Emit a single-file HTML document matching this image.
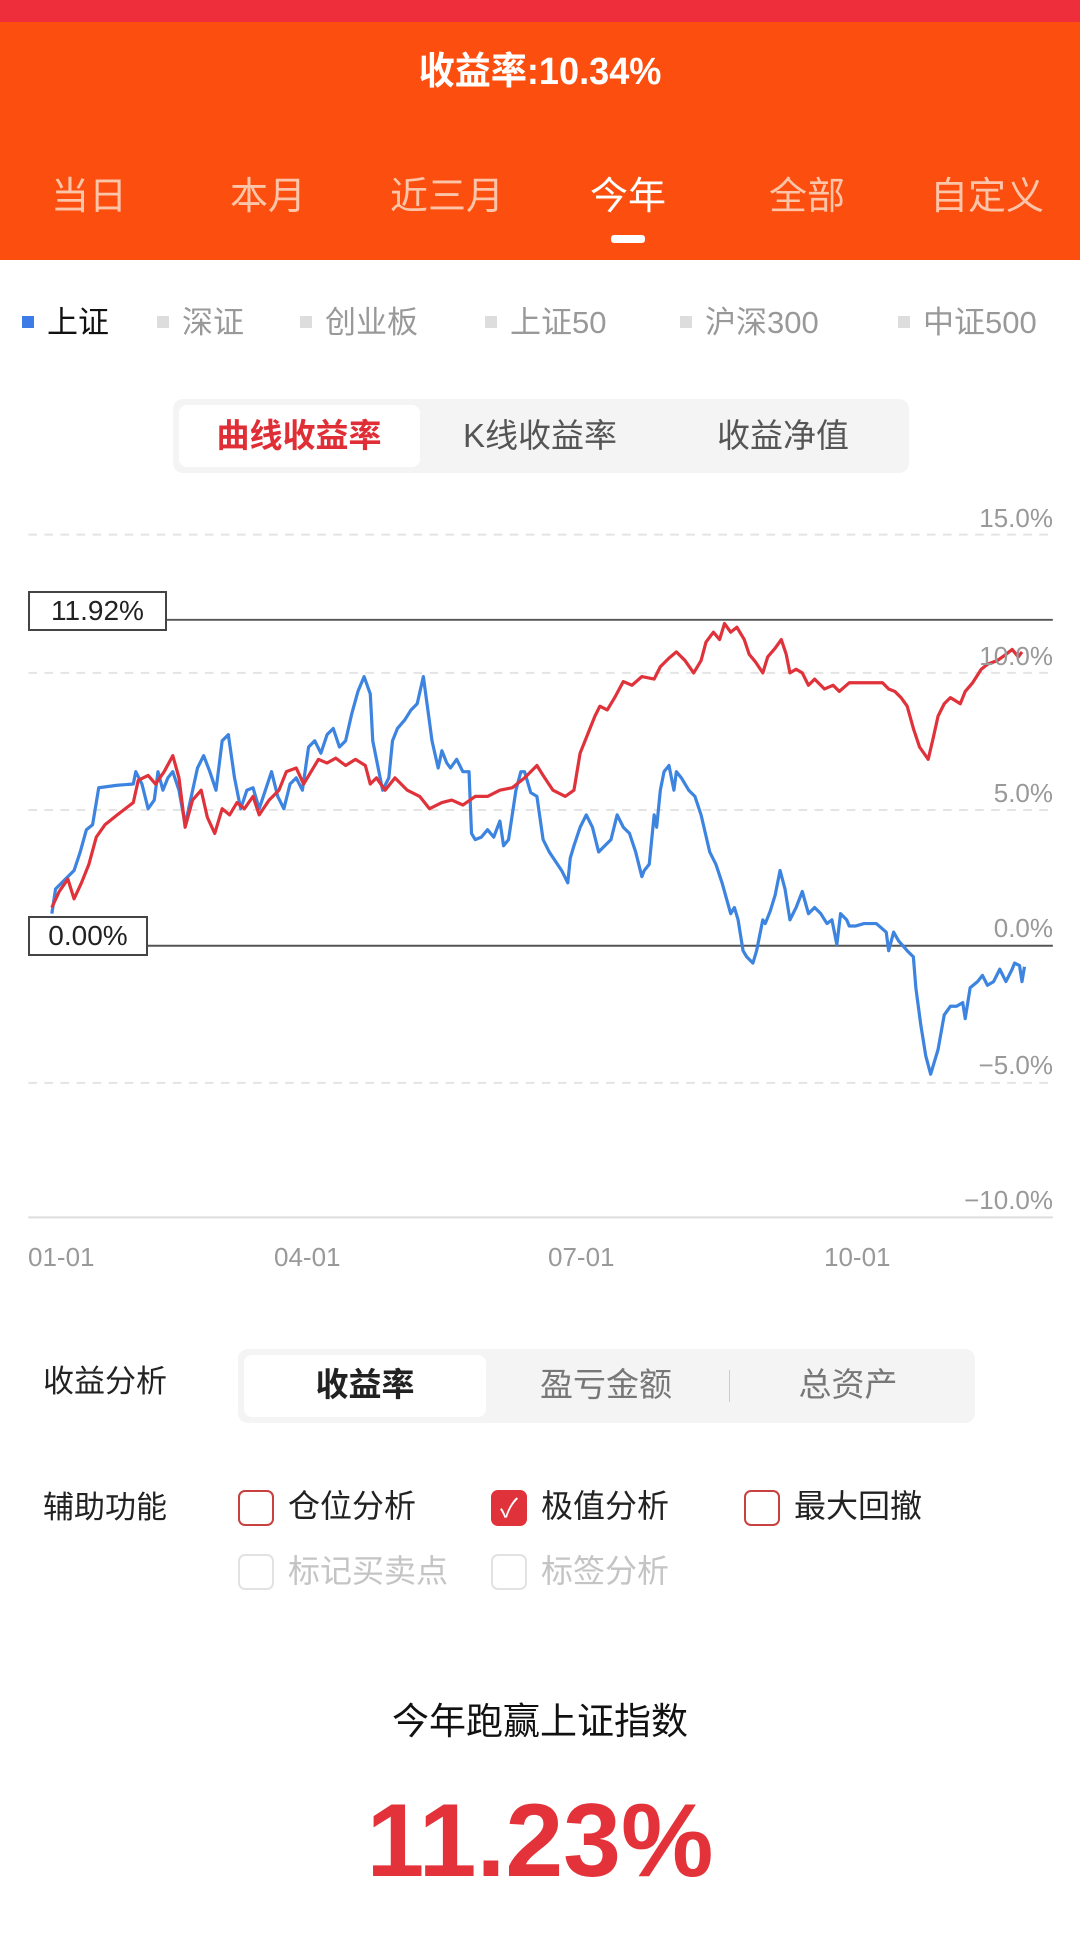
<!DOCTYPE html>
<html><head><meta charset="utf-8"><style>
*{margin:0;padding:0;box-sizing:border-box}
body{width:1080px;height:1936px;background:#fff;position:relative;overflow:hidden;font-family:"Liberation Sans","Noto Sans CJK SC",sans-serif}
.a{position:absolute;white-space:nowrap}
.c{transform:translateX(-50%)}
</style></head><body>
<div class="a" style="left:0;top:0;width:1080px;height:22px;background:#ee2e3a"></div>
<div class="a" style="left:0;top:22px;width:1080px;height:238px;background:#fc4e0e"></div>
<div class="a" style="left:540px;top:40px;font-size:38px;color:#fff;font-weight:bold;transform:translateX(-50%) scaleX(0.95)">收益率:10.34%</div>
<div class="a c" style="left:89px;top:165px;font-size:38px;color:#fcc4a8">当日</div>
<div class="a c" style="left:268px;top:165px;font-size:38px;color:#fcc4a8">本月</div>
<div class="a c" style="left:447px;top:165px;font-size:38px;color:#fcc4a8">近三月</div>
<div class="a c" style="left:628px;top:165px;font-size:38px;color:#fff">今年</div>
<div class="a c" style="left:807px;top:165px;font-size:38px;color:#fcc4a8">全部</div>
<div class="a c" style="left:987px;top:165px;font-size:38px;color:#fcc4a8">自定义</div>
<div class="a" style="left:611px;top:235px;width:34px;height:8px;border-radius:3px;background:#fff"></div>

<div class="a" style="left:22px;top:316px;width:12px;height:12px;background:#3d7be6"></div>
<div class="a" style="left:47px;top:297px;font-size:31px;color:#111">上证</div>
<div class="a" style="left:157px;top:316px;width:12px;height:12px;background:#ddd"></div>
<div class="a" style="left:182px;top:297px;font-size:31px;color:#999">深证</div>
<div class="a" style="left:300px;top:316px;width:12px;height:12px;background:#ddd"></div>
<div class="a" style="left:325px;top:297px;font-size:31px;color:#999">创业板</div>
<div class="a" style="left:485px;top:316px;width:12px;height:12px;background:#ddd"></div>
<div class="a" style="left:510px;top:297px;font-size:31px;color:#999">上证50</div>
<div class="a" style="left:680px;top:316px;width:12px;height:12px;background:#ddd"></div>
<div class="a" style="left:705px;top:297px;font-size:31px;color:#999">沪深300</div>
<div class="a" style="left:898px;top:316px;width:12px;height:12px;background:#ddd"></div>
<div class="a" style="left:923px;top:297px;font-size:31px;color:#999">中证500</div>

<div class="a" style="left:173px;top:399px;width:736px;height:74px;background:#f4f4f4;border-radius:10px"></div>
<div class="a" style="left:179px;top:405px;width:241px;height:62px;background:#fff;border-radius:8px"></div>
<div class="a c" style="left:299px;top:409px;font-size:33px;color:#e02e36;font-weight:bold">曲线收益率</div>
<div class="a c" style="left:540px;top:409px;font-size:33px;color:#555">K线收益率</div>
<div class="a c" style="left:783px;top:409px;font-size:33px;color:#555">收益净值</div>

<svg class="a" style="left:0;top:0" width="1080" height="1936" viewBox="0 0 875 1568" preserveAspectRatio="none">
<g stroke="#e4e4e4" stroke-width="1.6" stroke-dasharray="7,6">
<line x1="23" y1="433" x2="853" y2="433"/><line x1="23" y1="545" x2="853" y2="545"/>
<line x1="23" y1="656" x2="853" y2="656"/><line x1="23" y1="877" x2="853" y2="877"/></g>
<line x1="23" y1="986" x2="853" y2="986" stroke="#ddd" stroke-width="1.6"/>
<line x1="23" y1="766" x2="853" y2="766" stroke="#555" stroke-width="1.6"/>
<line x1="23" y1="502" x2="853" y2="502" stroke="#555" stroke-width="1.6"/>
<polyline fill="none" stroke="#3d84e0" stroke-width="2.6" stroke-linejoin="round" points="42,740 45,720 50,715 55,710 60,705 65,690 70,672 75,668 78,650 80,638 95,636 108,635 110,625 115,635 120,655 125,648 128,625 132,640 136,630 140,625 145,640 150,668 155,645 160,622 165,612 170,625 175,640 180,600 185,595 190,630 195,655 200,640 205,638 210,655 215,640 220,625 225,645 230,655 235,635 240,630 245,640 250,605 255,600 260,610 265,595 270,590 275,605 280,600 285,578 290,560 295,548 300,562 302,600 306,620 310,640 315,630 318,600 322,590 328,583 333,575 338,570 343,548 348,585 350,600 355,622 358,608 362,618 365,622 370,615 375,625 380,625 382,675 385,680 390,678 395,672 400,678 405,665 408,685 412,680 418,640 422,625 425,625 430,642 435,645 440,680 445,690 455,705 460,715 462,695 465,685 470,670 475,660 480,670 485,690 490,685 495,680 500,660 505,670 510,675 515,690 520,710 522,705 526,700 530,660 532,670 535,640 538,625 542,620 546,640 548,625 552,630 558,640 563,645 568,660 575,690 580,700 585,715 592,740 595,735 598,745 602,770 605,775 610,780 613,770 618,745 620,748 624,738 628,725 632,705 636,720 640,745 645,735 650,722 655,740 660,735 665,740 670,748 674,745 678,765 681,740 686,745 688,750 693,750 700,748 710,748 718,755 720,770 724,755 728,762 735,770 740,775 742,800 746,830 750,855 754,870 760,850 765,822 770,815 775,815 780,812 782,825 786,800 792,795 796,790 800,798 805,795 810,785 815,795 820,785 822,780 826,782 828,795 830,783"/>
<polyline fill="none" stroke="#e0323a" stroke-width="2.6" stroke-linejoin="round" points="42,735 48,722 55,712 60,728 66,715 72,700 78,678 85,668 95,660 108,650 112,632 120,628 126,635 133,625 140,612 145,630 150,670 156,648 163,640 168,662 174,675 180,655 186,660 192,650 198,655 205,645 210,660 218,648 226,640 232,625 240,622 246,635 252,625 258,615 265,618 272,614 280,620 288,615 296,620 300,635 305,630 312,640 320,630 330,640 340,645 348,655 358,650 366,648 375,652 385,645 395,645 405,640 415,638 425,630 435,620 440,628 448,640 458,645 465,640 470,610 476,595 482,580 486,572 492,575 498,565 505,552 512,555 520,548 530,550 535,540 542,533 548,528 555,535 562,545 568,535 572,520 578,512 583,518 587,505 592,512 597,508 603,518 607,530 612,536 618,545 622,532 628,525 633,518 637,530 640,545 645,542 650,545 655,555 660,550 668,558 675,555 680,560 688,553 700,553 715,553 720,558 725,560 730,565 735,572 740,590 745,605 752,615 756,598 760,580 765,570 770,565 778,570 782,560 788,553 795,542 800,538 808,535 815,530 820,526 825,532 828,528"/>
</svg>
<div class="a" style="left:28px;top:591px;width:139px;height:40px;border:2px solid #444;background:#fff;font-size:28px;color:#222;line-height:36px;text-align:center">11.92%</div>
<div class="a" style="left:28px;top:916px;width:120px;height:40px;border:2px solid #444;background:#fff;font-size:28px;color:#222;line-height:36px;text-align:center">0.00%</div>
<div class="a" style="right:27px;top:503px;font-size:26px;color:#999">15.0%</div>
<div class="a" style="right:27px;top:641px;font-size:26px;color:#999">10.0%</div>
<div class="a" style="right:27px;top:778px;font-size:26px;color:#999">5.0%</div>
<div class="a" style="right:27px;top:913px;font-size:26px;color:#999">0.0%</div>
<div class="a" style="right:27px;top:1050px;font-size:26px;color:#999">−5.0%</div>
<div class="a" style="right:27px;top:1185px;font-size:26px;color:#999">−10.0%</div>
<div class="a" style="left:28px;top:1242px;font-size:26px;color:#999">01-01</div>
<div class="a" style="left:274px;top:1242px;font-size:26px;color:#999">04-01</div>
<div class="a" style="left:548px;top:1242px;font-size:26px;color:#999">07-01</div>
<div class="a" style="left:824px;top:1242px;font-size:26px;color:#999">10-01</div>

<div class="a" style="left:43px;top:1356px;font-size:31px;color:#222">收益分析</div>
<div class="a" style="left:238px;top:1349px;width:737px;height:74px;background:#f4f4f4;border-radius:10px"></div>
<div class="a" style="left:244px;top:1355px;width:242px;height:62px;background:#fff;border-radius:8px"></div>
<div class="a c" style="left:365px;top:1358px;font-size:33px;color:#222;font-weight:bold">收益率</div>
<div class="a c" style="left:606px;top:1358px;font-size:33px;color:#777">盈亏金额</div>
<div class="a" style="left:729px;top:1370px;width:1px;height:32px;background:#ccc"></div>
<div class="a c" style="left:848px;top:1358px;font-size:33px;color:#777">总资产</div>

<div class="a" style="left:43px;top:1482px;font-size:31px;color:#222">辅助功能</div>
<div class="a" style="left:238px;top:1490px;width:36px;height:36px;border:2px solid #c84040;border-radius:7px"></div>
<div class="a" style="left:288px;top:1481px;font-size:32px;color:#222">仓位分析</div>
<div class="a" style="left:491px;top:1490px;width:36px;height:36px;background:#e0323a;border-radius:7px;color:#fff;font-size:26px;text-align:center;line-height:36px">✓</div>
<div class="a" style="left:541px;top:1481px;font-size:32px;color:#222">极值分析</div>
<div class="a" style="left:744px;top:1490px;width:36px;height:36px;border:2px solid #c84040;border-radius:7px"></div>
<div class="a" style="left:794px;top:1481px;font-size:32px;color:#222">最大回撤</div>
<div class="a" style="left:238px;top:1554px;width:36px;height:36px;border:2px solid #e2e2e2;border-radius:7px"></div>
<div class="a" style="left:288px;top:1546px;font-size:32px;color:#c4c4c4">标记买卖点</div>
<div class="a" style="left:491px;top:1554px;width:36px;height:36px;border:2px solid #e2e2e2;border-radius:7px"></div>
<div class="a" style="left:541px;top:1546px;font-size:32px;color:#c4c4c4">标签分析</div>

<div class="a c" style="left:540px;top:1691px;font-size:37px;color:#111">今年跑赢上证指数</div>
<div class="a c" style="left:540px;top:1782px;font-size:104px;color:#e3323a;font-weight:bold">11.23%</div>
</body></html>
